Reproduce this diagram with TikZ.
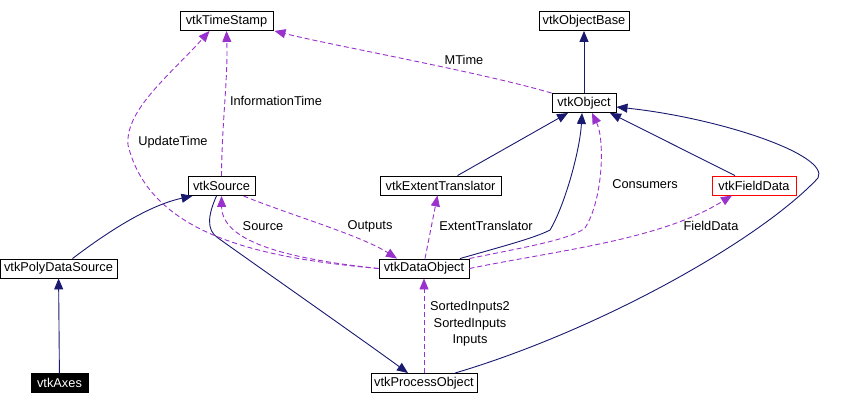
\documentclass[tikz,border=0pt]{standalone}
\usepackage{fontspec}
\setmainfont{Liberation Sans}
\usetikzlibrary{arrows.meta}
\definecolor{inhblue}{RGB}{25,25,112}
\definecolor{usepurple}{RGB}{153,50,204}
\tikzset{
  cls/box/.style={draw, rectangle, line width=0.9pt, minimum height=19pt, inner sep=1pt, font=\fontsize{12.8}{15}\selectfont},
  cls/hl/.style={cls/box, draw=red},
  cls/self/.style={cls/box, fill=black, text=white},
  rel/inherit/.style={draw=inhblue, line width=0.9pt, -{Triangle[length=11pt,width=9pt]}},
  rel/uses/.style={draw=usepurple, line width=0.9pt, dash pattern=on 5pt off 3pt, -{Triangle[length=11pt,width=9pt]}},
  rel/label/.style={font=\fontsize{12.8}{16.5}\selectfont, inner sep=0pt, align=center}
}

\begin{document}
\begin{tikzpicture}[x=1pt, y=-1pt]
  \useasboundingbox (0,0) rectangle (856,405);

  \node[cls/box, minimum width=93pt] (tstamp) at (226.5,21) {vtkTimeStamp};
  \node[cls/box, minimum width=90pt] (objbase) at (584,21) {vtkObjectBase};
  \node[cls/box, minimum width=64pt] (obj) at (584,103) {vtkObject};
  \node[cls/box, minimum width=67pt] (src) at (221.5,186) {vtkSource};
  \node[cls/box, minimum width=121pt] (extent) at (440.5,185.5) {vtkExtentTranslator};
  \node[cls/hl, minimum width=84pt] (field) at (754,185.5) {vtkFieldData};
  \node[cls/box, minimum width=117pt] (polysrc) at (58.5,268.5) {vtkPolyDataSource};
  \node[cls/box, minimum width=90pt] (dataobj) at (424,268.5) {vtkDataObject};
  \node[cls/self, minimum width=57pt] (axes) at (59.5,383) {vtkAxes};
  \node[cls/box, minimum width=106pt] (procobj) at (424,383) {vtkProcessObject};

  % inheritance
  \draw[rel/inherit] (obj) -- (objbase);
  \draw[rel/inherit] (axes) -- (polysrc);
  \draw[rel/inherit] ([xshift=14pt]polysrc.north) .. controls (110,230) and (150,205) .. ([xshift=-29pt]src.south);
  \draw[rel/inherit] ([xshift=-5pt]src.south) .. controls (208,215) and (206,230) .. (218,238)
    .. controls (260,268) and (360,338) .. ([xshift=-16pt]procobj.north);
  \draw[rel/inherit] ([xshift=31pt]procobj.north) .. controls (600,330) and (760,240) .. (818,178)
    .. controls (830,155) and (720,118) .. ([yshift=-4pt]obj.east);
  \draw[rel/inherit] ([xshift=17pt]extent.north) -- ([xshift=-16pt]obj.south);
  \draw[rel/inherit] ([xshift=36pt]dataobj.north) .. controls (500,247) and (535,238) .. (550,230)
    .. controls (565,205) and (580,150) .. ([xshift=-2pt]obj.south);
  \draw[rel/inherit] ([xshift=-19pt]field.north) -- ([xshift=26pt]obj.south);

  % usage
  \draw[rel/uses] (obj.north west) .. controls (480,72) and (330,45) .. ([xshift=1pt]tstamp.south east);
  \draw[rel/uses] (src.north) .. controls (222,120) and (228,80) .. (tstamp.south);
  \draw[rel/uses] (dataobj.west) .. controls (260,258) and (150,235) .. (128,145)
    .. controls (125,110) and (170,75) .. ([xshift=-17pt]tstamp.south);
  \draw[rel/uses] (dataobj.west) .. controls (280,258) and (222,240) .. (src.south);
  \draw[rel/uses] ([xshift=-12pt]src.south east) .. controls (290,215) and (360,235) .. ([xshift=-27pt]dataobj.north);
  \draw[rel/uses] ([xshift=1pt]dataobj.north) -- ([xshift=-3pt]extent.south);
  \draw[rel/uses] (dataobj.north east) .. controls (520,248) and (570,240) .. (585,228)
    .. controls (603,200) and (605,140) .. ([xshift=8pt]obj.south);
  \draw[rel/uses] (dataobj.east) .. controls (560,250) and (660,240) .. ([xshift=-22pt]field.south);
  \draw[rel/uses] (procobj) -- (dataobj);

  \node[rel/label] (mtime) at (464,60) {MTime};
  \node[rel/label] (infotime) at (276,101) {InformationTime};
  \node[rel/label] (updtime) at (173,142) {UpdateTime};
  \node[rel/label] (lsource) at (263,226) {Source};
  \node[rel/label] (loutputs) at (370,226) {Outputs};
  \node[rel/label] (lextent) at (486,226) {ExtentTranslator};
  \node[rel/label] (lconsumers) at (645,184) {Consumers};
  \node[rel/label] (lfield) at (711,226) {FieldData};
  \node[rel/label] (linputs) at (470,324) {SortedInputs2\\SortedInputs\\Inputs};
\end{tikzpicture}
\end{document}
